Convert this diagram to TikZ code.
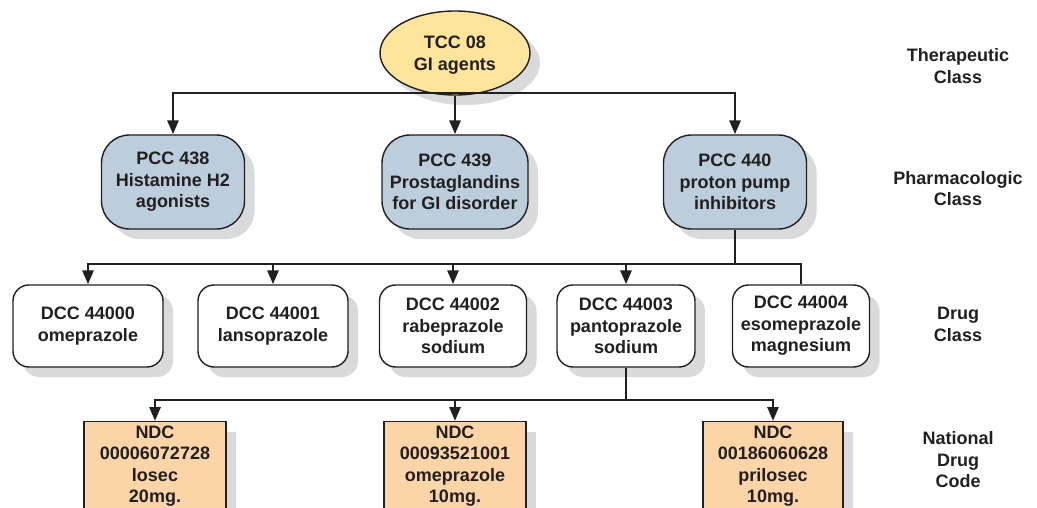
\documentclass[tikz,border=0pt]{standalone}
\usepackage{fontspec}
\setmainfont{Liberation Sans}
\usetikzlibrary{arrows.meta,shadows,shapes.geometric}
\definecolor{ink}{HTML}{231F20}
\definecolor{tccfill}{HTML}{FDE59B}
\definecolor{pccfill}{HTML}{BCCDDB}
\definecolor{ndcfill}{HTML}{FBD4A8}
\definecolor{shade}{HTML}{D9DADC}

\begin{document}
\begin{tikzpicture}[x=1pt,y=-1pt,
  every node/.style={font=\fontsize{18}{21.5}\selectfont\bfseries, text=ink, align=center},
  boxshadow/.style={drop shadow={shadow xshift=10pt,shadow yshift=-10pt,fill=shade,opacity=1}},
  tccnode/.style={ellipse, draw=ink, line width=1.4pt, fill=tccfill, minimum width=150pt, minimum height=84pt, inner sep=0pt, boxshadow},
  pccnode/.style={rectangle, rounded corners=28pt, draw=ink, line width=1.4pt, fill=pccfill, minimum width=143pt, minimum height=94pt, inner sep=0pt, boxshadow},
  dccnode/.style={rectangle, rounded corners=16pt, draw=ink, line width=1.4pt, fill=white, minimum height=82pt, inner sep=0pt, boxshadow},
  ndcnode/.style={rectangle, draw=ink, line width=1.4pt, fill=ndcfill, minimum width=142pt, anchor=north, inner xsep=0pt, inner ysep=4pt, boxshadow},
  link/.style={draw=ink, line width=2.8pt},
  arr/.style={link, -{Triangle[length=14pt,width=11pt]}}
]
% canvas
\useasboundingbox (0,0) rectangle (1037,508);
\fill[white] (0,0) rectangle (1037,508);
\clip (0,0) rectangle (1037,508);

% bus junctions
\coordinate (b1) at (455,93);
\coordinate (b2) at (735,264);
\coordinate (b3) at (626,400);

% category boxes
\node[tccnode] (tcc) at (455,53) {\rule{0pt}{17pt}TCC 08\\GI agents};
\node[pccnode] (pcc438) at (173,182) {PCC 438\\Histamine H2\\agonists};
\node[pccnode, minimum width=146pt] (pcc439) at (455,182) {PCC 439\\Prostaglandins\\for GI disorder};
\node[pccnode] (pcc440) at (735,182) {PCC 440\\proton pump\\inhibitors};

\node[dccnode, minimum width=150pt] (dcc0) at (88,326) {DCC 44000\\omeprazole};
\node[dccnode, minimum width=150pt] (dcc1) at (273,326) {DCC 44001\\lansoprazole};
\node[dccnode, minimum width=147pt] (dcc2) at (453,326) {DCC 44002\\rabeprazole\\sodium};
\node[dccnode, minimum width=138pt] (dcc3) at (626,326) {DCC 44003\\pantoprazole\\sodium};
\node[dccnode, minimum width=137pt] (dcc4) at (801,326) {DCC 44004\\esomeprazole\\magnesium};

\node[ndcnode] (ndc0) at (155,421) {NDC\\00006072728\\losec\\20mg.};
\node[ndcnode] (ndc1) at (455,421) {NDC\\00093521001\\omeprazole\\10mg.};
\node[ndcnode, minimum width=140pt] (ndc2) at (773,421) {NDC\\00186060628\\prilosec\\10mg.};

% level 1 -> level 2
\draw[arr] (b1) -| (pcc438.north);
\draw[arr] (b1) -| (pcc440.north);
\draw[arr] (tcc.south) -- (pcc439.north);

% level 2 -> level 3
\draw[link] (pcc440.south) -- (b2);
\draw[arr] (b2) -| (dcc0.north);
\draw[arr] (b2) -| (dcc1.north);
\draw[arr] (b2) -| (dcc2.north);
\draw[arr] (b2) -| (dcc3.north);
\draw[link] (b2) -| (dcc4.north);

% level 3 -> level 4
\draw[link] (dcc3.south) -- (b3);
\draw[arr] (b3) -| (ndc0.north);
\draw[arr] (b3) -| (ndc1.north);
\draw[arr] (b3) -| (ndc2.north);

% level captions
\node (lv1) at (958,66) {Therapeutic\\Class};
\node (lv2) at (958,188.5) {Pharmacologic\\Class};
\node (lv3) at (958,324.5) {Drug\\Class};
\node (lv4) at (958,460) {National\\Drug\\Code};
\end{tikzpicture}
\end{document}
